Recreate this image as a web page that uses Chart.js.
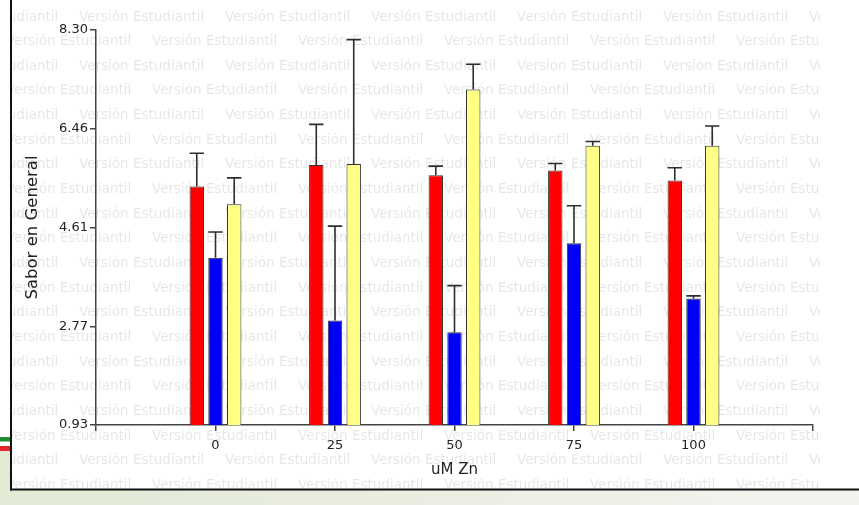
<!DOCTYPE html>
<html lang="es">
<head>
<meta charset="utf-8">
<title>Sabor en General según uM Zn</title>
<script src="https://cdn.jsdelivr.net/npm/chart.js@4.4.1/dist/chart.umd.min.js"></script>
<style>
  html, body { margin: 0; padding: 0; background: #ffffff; }
  #wrap { width: 859px; height: 505px; position: relative; }
  canvas { display: block; }
</style>
</head>
<body>
<div id="wrap"><canvas id="chart" width="859" height="505"></canvas></div>
<script>
// Zn concentration groups (uM)
const categories = ['0', '25', '50', '75', '100'];

// Mean scores and upper error per series
const serieRoja      = [5.38, 5.78, 5.59, 5.68, 5.49];
const errorRoja      = [0.62, 0.76, 0.17, 0.13, 0.24];
const serieAzul      = [4.05, 2.88, 2.66, 4.32, 3.29];
const errorAzul      = [0.48, 1.76, 0.87, 0.70, 0.05];
const serieAmarilla  = [5.05, 5.80, 7.19, 6.14, 6.14];
const errorAmarilla  = [0.49, 2.32, 0.47, 0.08, 0.37];

// Y axis ticks
const yTicks      = [0.93, 2.77, 4.61, 6.46, 8.30];
const yTickLabels = ['0.93', '2.77', '4.61', '6.46', '8.30'];

// The x axis runs one empty slot past each end, so groups sit at 1..5
const labels = ['', ...categories, ''];
const padSeries = arr => [null, ...arr, null];

const FONT = '"DejaVu Sans", "Liberation Sans", Arial, sans-serif';
Chart.defaults.font.family = FONT;
Chart.defaults.color = '#222';

// Page backdrop, framed panel and the repeated "Versión Estudiantil" stamp
const fondo = {
  id: 'fondo',
  beforeDraw(chart) {
    const ctx = chart.ctx;
    const W = chart.width, H = chart.height;
    ctx.save();
    ctx.fillStyle = '#ffffff';
    ctx.fillRect(0, 0, W, H);

    const g = ctx.createLinearGradient(0, 0, W, 0);
    g.addColorStop(0, '#e2e9d5');
    g.addColorStop(0.5, '#eaeee2');
    g.addColorStop(1, '#f3f4f0');
    ctx.fillStyle = g;
    ctx.fillRect(0, 490, W, H - 490);
    ctx.fillRect(0, 451, 12, 40);

    // coloured stripes at the left margin
    ctx.fillStyle = '#1e8c32';
    ctx.fillRect(0, 437, 12, 4.5);
    ctx.fillStyle = '#e6262b';
    ctx.fillRect(0, 446, 12, 5);

    // panel frame
    ctx.fillStyle = '#111';
    ctx.fillRect(10, 0, 2, 490.5);
    ctx.fillRect(10, 488.5, W - 10, 2);

    // watermark rows
    ctx.beginPath();
    ctx.rect(12, 0, 808, 488);
    ctx.clip();
    ctx.fillStyle = 'rgba(0,0,0,0.10)';
    ctx.font = '13.5px ' + FONT;
    ctx.textBaseline = 'middle';
    for (let r = 0; r < 20; r++) {
      const yy = 17 + r * 24.65;
      const x0 = r % 2 === 0 ? -67 : 6;
      for (let x = x0; x < 830; x += 146) {
        ctx.fillText('Versión Estudiantil', x, yy);
      }
    }
    ctx.restore();
  }
};

// Upper error bars with caps as wide as the bar
const barrasError = {
  id: 'barrasError',
  afterDatasetsDraw(chart) {
    const ctx = chart.ctx;
    const yScale = chart.scales.y;
    ctx.save();
    ctx.strokeStyle = '#2e2e2e';
    ctx.lineWidth = 1.6;
    chart.data.datasets.forEach((ds, i) => {
      const meta = chart.getDatasetMeta(i);
      meta.data.forEach((bar, j) => {
        const v = ds.data[j];
        const e = ds.errores[j];
        if (v == null || e == null) return;
        const top = yScale.getPixelForValue(v + e);
        const half = bar.width / 2;
        ctx.beginPath();
        ctx.moveTo(bar.x, bar.y);
        ctx.lineTo(bar.x, top);
        ctx.moveTo(bar.x - half, top);
        ctx.lineTo(bar.x + half, top);
        ctx.stroke();
      });
    });
    ctx.restore();
  }
};

const barStyle = {
  borderWidth: 1,
  borderColor: '#333333',
  categoryPercentage: 0.47,
  barPercentage: 0.77
};

new Chart(document.getElementById('chart'), {
  type: 'bar',
  data: {
    labels: labels,
    datasets: [
      Object.assign({ label: 'Serie 1', data: padSeries(serieRoja), errores: padSeries(errorRoja), backgroundColor: '#ff0000' }, barStyle),
      Object.assign({ label: 'Serie 2', data: padSeries(serieAzul), errores: padSeries(errorAzul), backgroundColor: '#0000f5' }, barStyle),
      Object.assign({ label: 'Serie 3', data: padSeries(serieAmarilla), errores: padSeries(errorAmarilla), backgroundColor: '#ffff85' }, barStyle)
    ]
  },
  options: {
    responsive: false,
    animation: false,
    devicePixelRatio: 1,
    layout: { padding: { top: 30, left: 10, right: 46, bottom: 25.5 } },
    plugins: {
      legend: { display: false },
      tooltip: { enabled: false }
    },
    scales: {
      x: {
        type: 'category',
        offset: false,
        grid: { display: true, offset: false, drawOnChartArea: false, drawTicks: true, tickLength: 6, color: '#444', lineWidth: 1.5 },
        border: { display: true, color: '#444', width: 1.5 },
        ticks: { autoSkip: false, maxRotation: 0, minRotation: 0, padding: 7, color: '#222', font: { size: 13 } },
        title: { display: true, text: 'uM Zn', color: '#222', font: { size: 15 }, padding: { top: 0, bottom: 0 } },
        afterFit(scale) { scale.height = 54.5; }
      },
      y: {
        type: 'linear',
        min: yTicks[0],
        max: yTicks[yTicks.length - 1],
        grid: { display: true, drawOnChartArea: false, drawTicks: true, tickLength: 6, color: '#444', lineWidth: 1.5 },
        border: { display: true, color: '#444', width: 1.5 },
        afterBuildTicks(scale) { scale.ticks = yTicks.map(v => ({ value: v })); },
        ticks: {
          padding: 2,
          color: '#222',
          font: { size: 13 },
          callback: (value, index) => yTickLabels[index]
        },
        title: { display: true, text: 'Sabor en General', color: '#222', font: { size: 16.5 }, padding: { top: 12.6, bottom: 0 } },
        afterFit(scale) { scale.width = 86; }
      }
    }
  },
  plugins: [fondo, barrasError]
});
</script>
</body>
</html>
